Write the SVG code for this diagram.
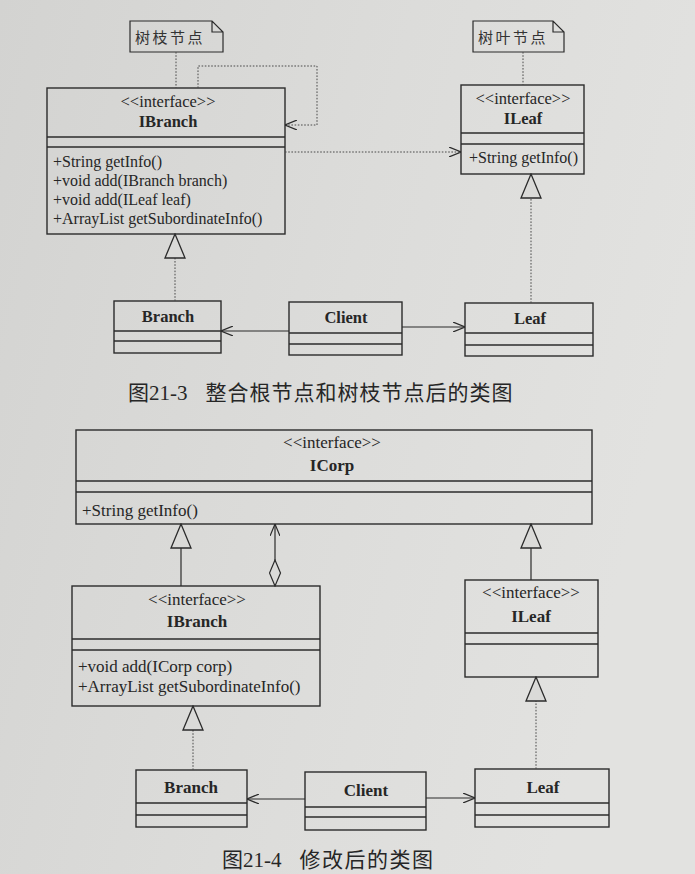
<svg xmlns="http://www.w3.org/2000/svg" width="695" height="874" viewBox="0 0 695 874">
  <defs>
    <linearGradient id="paper" x1="0" y1="0" x2="1" y2="0.3">
      <stop offset="0" stop-color="#d3d3d1"/>
      <stop offset="0.55" stop-color="#dcdcda"/>
      <stop offset="1" stop-color="#e2e2e0"/>
    </linearGradient>
    <marker id="open" viewBox="0 0 12 10" refX="12" refY="5" markerWidth="12" markerHeight="10" markerUnits="userSpaceOnUse" orient="auto">
      <path d="M0,0 L12,5 L0,10" fill="none" stroke="#2b2b2b" stroke-width="1.2"/>
    </marker>
    <marker id="tri" viewBox="-1 -1 26 22" refX="24" refY="10" markerWidth="26" markerHeight="22" markerUnits="userSpaceOnUse" orient="auto">
      <path d="M0,0 L24,10 L0,20 Z" fill="#dadad8" stroke="#2b2b2b" stroke-width="1.3"/>
    </marker>
    <marker id="diamond" viewBox="-1 -1 28 13" refX="0" refY="5.5" markerWidth="28" markerHeight="13" markerUnits="userSpaceOnUse" orient="auto">
      <path d="M0,5.5 L13,0 L26,5.5 L13,11 Z" fill="#dadad8" stroke="#2b2b2b" stroke-width="1.2"/>
    </marker>
  </defs>
  <style>
    .box { fill: none; stroke: #2b2b2b; stroke-width: 1.4; }
    .sep { stroke: #2b2b2b; stroke-width: 1.4; }
    .note { fill: none; stroke: #2b2b2b; stroke-width: 1.2; }
    .solid { fill: none; stroke: #2b2b2b; stroke-width: 1.2; }
    .dot { fill: none; stroke: #4a4a4a; stroke-width: 1; stroke-dasharray: 1.6 1.6; }
    .st { font-family: "Liberation Serif", serif; font-size: 16.5px; fill: #262626; text-anchor: middle; }
    .nm { font-family: "Liberation Serif", serif; font-size: 16.5px; font-weight: bold; fill: #262626; text-anchor: middle; }
    .op { font-family: "Liberation Serif", serif; font-size: 16px; fill: #262626; }
    .st2 { font-family: "Liberation Serif", serif; font-size: 17px; fill: #262626; text-anchor: middle; }
    .nm2 { font-family: "Liberation Serif", serif; font-size: 17px; font-weight: bold; fill: #262626; text-anchor: middle; }
    .op2 { font-family: "Liberation Serif", serif; font-size: 17px; fill: #262626; }
    .cjk { font-family: "Noto Sans CJK SC", sans-serif; font-size: 15px; letter-spacing: 2.5px; fill: #333; }
    .cap { font-family: "Liberation Serif", "Noto Sans CJK SC", serif; font-size: 21px; fill: #262626; }
  </style>

  <rect x="0" y="0" width="695" height="874" fill="url(#paper)"/>

  <!-- upper diagram: composite with branch and leaf interfaces -->
  <g id="note-branch">
    <path class="note" d="M130,21 H212 L223,32 V52 H130 Z M212,21 V32 H223"/>
    <text class="cjk" x="135" y="43">树枝节点</text>
  </g>
  <g id="note-leaf">
    <path class="note" d="M473,21 H553 L564,32 V52 H473 Z M553,21 V32 H564"/>
    <text class="cjk" x="478" y="43">树叶节点</text>
  </g>

  <g id="ibranch-a">
    <rect class="box" x="47" y="88" width="238" height="146"/>
    <line class="sep" x1="47" y1="137" x2="285" y2="137"/>
    <line class="sep" x1="47" y1="147" x2="285" y2="147"/>
    <text class="st" x="168" y="107">&lt;&lt;interface&gt;&gt;</text>
    <text class="nm" x="168" y="127">IBranch</text>
    <text class="op" x="53" y="167">+String getInfo()</text>
    <text class="op" x="53" y="186">+void add(IBranch branch)</text>
    <text class="op" x="53" y="205">+void add(ILeaf leaf)</text>
    <text class="op" x="53" y="224">+ArrayList getSubordinateInfo()</text>
  </g>

  <g id="ileaf-a">
    <rect class="box" x="461" y="85" width="123" height="89"/>
    <line class="sep" x1="461" y1="133" x2="584" y2="133"/>
    <line class="sep" x1="461" y1="144" x2="584" y2="144"/>
    <text class="st" x="523" y="104">&lt;&lt;interface&gt;&gt;</text>
    <text class="nm" x="523" y="124">ILeaf</text>
    <text class="op" x="469" y="163">+String getInfo()</text>
  </g>

  <g id="branch-a">
    <rect class="box" x="114" y="301" width="107" height="52"/>
    <line class="sep" x1="114" y1="331" x2="221" y2="331"/>
    <line class="sep" x1="114" y1="341" x2="221" y2="341"/>
    <text class="nm" x="168" y="322">Branch</text>
  </g>

  <g id="client-a">
    <rect class="box" x="289" y="302" width="113" height="53"/>
    <line class="sep" x1="289" y1="333" x2="402" y2="333"/>
    <line class="sep" x1="289" y1="344" x2="402" y2="344"/>
    <text class="nm" x="346" y="323">Client</text>
  </g>

  <g id="leaf-a">
    <rect class="box" x="465" y="303" width="128" height="53"/>
    <line class="sep" x1="465" y1="333" x2="593" y2="333"/>
    <line class="sep" x1="465" y1="345" x2="593" y2="345"/>
    <text class="nm" x="530" y="324">Leaf</text>
  </g>

  <g id="connectors-a">
    <path class="dot" d="M176,52 V88"/>
    <path class="dot" d="M523,52 V85"/>
    <path class="dot" d="M198,88 V66 H317 V125 H285" marker-end="url(#open)"/>
    <path class="dot" d="M285,152 H461" marker-end="url(#open)"/>
    <path class="dot" d="M175,301 V234" marker-end="url(#tri)"/>
    <path class="dot" d="M531,303 V174" marker-end="url(#tri)"/>
    <path class="solid" d="M289,331 H221" marker-end="url(#open)"/>
    <path class="solid" d="M402,327 H465" marker-end="url(#open)"/>
  </g>

  <text class="cap" x="128" y="400">图21-3<tspan dx="18" letter-spacing="1">整合根节点和树枝节点后的类图</tspan></text>

  <!-- lower diagram: common ICorp interface -->
  <g id="icorp">
    <rect class="box" x="76" y="430" width="516" height="94"/>
    <line class="sep" x1="76" y1="481" x2="592" y2="481"/>
    <line class="sep" x1="76" y1="492" x2="592" y2="492"/>
    <text class="st2" x="332" y="448">&lt;&lt;interface&gt;&gt;</text>
    <text class="nm2" x="332" y="471">ICorp</text>
    <text class="op2" x="82" y="516">+String getInfo()</text>
  </g>

  <g id="ibranch-b">
    <rect class="box" x="72" y="586" width="248" height="120"/>
    <line class="sep" x1="72" y1="639" x2="320" y2="639"/>
    <line class="sep" x1="72" y1="650" x2="320" y2="650"/>
    <text class="st2" x="197" y="605">&lt;&lt;interface&gt;&gt;</text>
    <text class="nm2" x="197" y="627">IBranch</text>
    <text class="op2" x="78" y="672">+void add(ICorp corp)</text>
    <text class="op2" x="78" y="692">+ArrayList getSubordinateInfo()</text>
  </g>

  <g id="ileaf-b">
    <rect class="box" x="465" y="580" width="133" height="97"/>
    <line class="sep" x1="465" y1="633" x2="598" y2="633"/>
    <line class="sep" x1="465" y1="644" x2="598" y2="644"/>
    <text class="st2" x="531" y="598">&lt;&lt;interface&gt;&gt;</text>
    <text class="nm2" x="531" y="622">ILeaf</text>
  </g>

  <g id="branch-b">
    <rect class="box" x="136" y="770" width="111" height="57"/>
    <line class="sep" x1="136" y1="803" x2="247" y2="803"/>
    <line class="sep" x1="136" y1="815" x2="247" y2="815"/>
    <text class="nm2" x="191" y="793">Branch</text>
  </g>

  <g id="client-b">
    <rect class="box" x="305" y="772" width="121" height="58"/>
    <line class="sep" x1="305" y1="807" x2="426" y2="807"/>
    <line class="sep" x1="305" y1="817" x2="426" y2="817"/>
    <text class="nm2" x="366" y="796">Client</text>
  </g>

  <g id="leaf-b">
    <rect class="box" x="475" y="769" width="134" height="58"/>
    <line class="sep" x1="475" y1="803" x2="609" y2="803"/>
    <line class="sep" x1="475" y1="815" x2="609" y2="815"/>
    <text class="nm2" x="543" y="793">Leaf</text>
  </g>

  <g id="connectors-b">
    <path class="solid" d="M181,586 V524" marker-end="url(#tri)"/>
    <path class="solid" d="M275,586 V524" marker-start="url(#diamond)" marker-end="url(#open)"/>
    <path class="solid" d="M531,580 V524" marker-end="url(#tri)"/>
    <path class="dot" d="M193,770 V706" marker-end="url(#tri)"/>
    <path class="dot" d="M536,769 V677" marker-end="url(#tri)"/>
    <path class="solid" d="M305,799 H247" marker-end="url(#open)"/>
    <path class="solid" d="M426,798 H475" marker-end="url(#open)"/>
  </g>

  <text class="cap" x="222" y="867">图21-4<tspan dx="18" letter-spacing="1.5">修改后的类图</tspan></text>
</svg>
